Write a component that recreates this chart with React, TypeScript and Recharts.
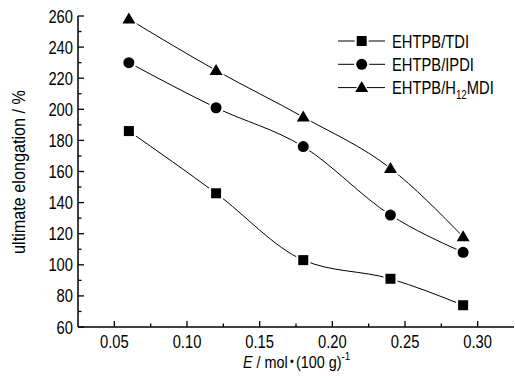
import React from "react";
import { LineChart, Line, XAxis, YAxis } from "recharts";

const xValues = [0.06, 0.12, 0.18, 0.24, 0.29];
const tdi = [186, 146, 103, 91, 74];
const ipdi = [230, 201, 176, 132, 108];
const h12mdi = [258, 225, 195, 162, 118];

const xTicks = [0.05, 0.075, 0.1, 0.125, 0.15, 0.175, 0.2, 0.225, 0.25, 0.275, 0.3];
const yTicks = [60, 70, 80, 90, 100, 110, 120, 130, 140, 150, 160, 170, 180, 190, 200, 210, 220, 230, 240, 250, 260];

const data = xValues.map((x, i) => ({ x, tdi: tdi[i], ipdi: ipdi[i], h12: h12mdi[i] }));

const FONT = "'Liberation Sans', Arial, sans-serif";

const NText = ({ x, y, anchor = "start", size = 18, rotate = 0, sx = 0.82, children }: any) => (
  <text
    transform={`translate(${x},${y}) rotate(${rotate}) scale(${sx},1)`}
    textAnchor={anchor}
    fontSize={size}
    fontFamily={FONT}
    fill="#000"
  >
    {children}
  </text>
);

const XTick = (props: any) => {
  const { x, y, payload } = props;
  const v = payload.value;
  const major = Math.round(v * 1000) % 50 === 0;
  return (
    <g>
      <line x1={x} x2={x} y1={y} y2={y - (major ? 6 : 3.5)} stroke="#000" strokeWidth={1.3} />
      {major && (
        <NText x={x} y={y + 21} anchor="middle">
          {v.toFixed(2)}
        </NText>
      )}
    </g>
  );
};

const YTick = (props: any) => {
  const { x, y, payload } = props;
  const v = payload.value;
  const major = v % 20 === 0;
  return (
    <g>
      <line x1={x} x2={x + (major ? 6 : 3.5)} y1={y} y2={y} stroke="#000" strokeWidth={1.3} />
      {major && (
        <NText x={x - 5} y={y + 6.5} anchor="end">
          {v}
        </NText>
      )}
    </g>
  );
};

const Marker = ({ kind, cx, cy }: { kind: string; cx: number; cy: number }) => {
  if (cx == null || cy == null) return null;
  if (kind === "square") {
    return (
      <g>
        <rect x={cx - 7} y={cy - 7} width={14} height={14} fill="#fff" />
        <rect x={cx - 5} y={cy - 5} width={10} height={10} fill="#000" />
      </g>
    );
  }
  if (kind === "circle") {
    return (
      <g>
        <circle cx={cx} cy={cy} r={7.5} fill="#fff" />
        <circle cx={cx} cy={cy} r={5.5} fill="#000" />
      </g>
    );
  }
  const pts = (s: number) =>
    `${cx},${cy - 6.5 * s} ${cx + 6.5 * s},${cy + 4.5 * s} ${cx - 6.5 * s},${cy + 4.5 * s}`;
  return (
    <g>
      <polygon points={pts(1.35)} fill="#fff" />
      <polygon points={pts(1)} fill="#000" />
    </g>
  );
};

const makeDot = (kind: string) => (props: any) => (
  <Marker key={`${kind}-${props.index}`} kind={kind} cx={props.cx} cy={props.cy} />
);

const legendKinds = ["square", "circle", "triangle"];

export default function App() {
  return (
    <div style={{ position: "absolute", left: 0, top: 0, width: 515, height: 376, background: "#fff" }}>
      <LineChart width={515} height={376} data={data} margin={{ top: 16, right: 1, left: 0, bottom: 0 }}>
        <XAxis
          type="number"
          dataKey="x"
          domain={[0.025, 0.325]}
          ticks={xTicks}
          interval={0}
          height={49}
          tickLine={false}
          tickSize={0}
          tickMargin={0}
          tick={<XTick />}
          axisLine={{ stroke: "#000", strokeWidth: 1.5 }}
        />
        <YAxis
          type="number"
          domain={[60, 260]}
          ticks={yTicks}
          interval={0}
          width={78}
          tickLine={false}
          tickSize={0}
          tickMargin={0}
          tick={<YTick />}
          axisLine={{ stroke: "#000", strokeWidth: 1.5 }}
        />
        <Line type="monotone" dataKey="tdi" stroke="#000" strokeWidth={1} dot={makeDot("square")} activeDot={false} isAnimationActive={false} />
        <Line type="monotone" dataKey="ipdi" stroke="#000" strokeWidth={1} dot={makeDot("circle")} activeDot={false} isAnimationActive={false} />
        <Line type="monotone" dataKey="h12" stroke="#000" strokeWidth={1} dot={makeDot("triangle")} activeDot={false} isAnimationActive={false} />
      </LineChart>
      <svg width={515} height={376} style={{ position: "absolute", left: 0, top: 0, pointerEvents: "none" }}>
        {legendKinds.map((k, i) => {
          const cy = 41 + i * 23.3;
          return (
            <g key={k}>
              <line x1={338} x2={385} y1={cy} y2={cy} stroke="#000" strokeWidth={1} />
              <Marker kind={k} cx={361.7} cy={cy} />
            </g>
          );
        })}
        <NText x={392} y={47.5}>EHTPB/TDI</NText>
        <NText x={392} y={70.8}>EHTPB/IPDI</NText>
        <NText x={392} y={94.1}>
          <tspan>EHTPB/H</tspan>
          <tspan fontSize={12} dy={5}>12</tspan>
          <tspan dy={-5}>MDI</tspan>
        </NText>
        <NText x={25} y={172} anchor="middle" size={18} sx={0.9} rotate={-90}>
          ultimate elongation / %
        </NText>
        <NText x={243} y={368} size={16} sx={0.9}>
          <tspan fontStyle="italic">E</tspan>
          <tspan> / mol</tspan>
          <tspan fontSize={12} dy={-2}>{"\u2009•\u2009"}</tspan>
          <tspan dy={2}>(100 g)</tspan>
          <tspan fontSize={11} dy={-8}>-1</tspan>
        </NText>
      </svg>
    </div>
  );
}
